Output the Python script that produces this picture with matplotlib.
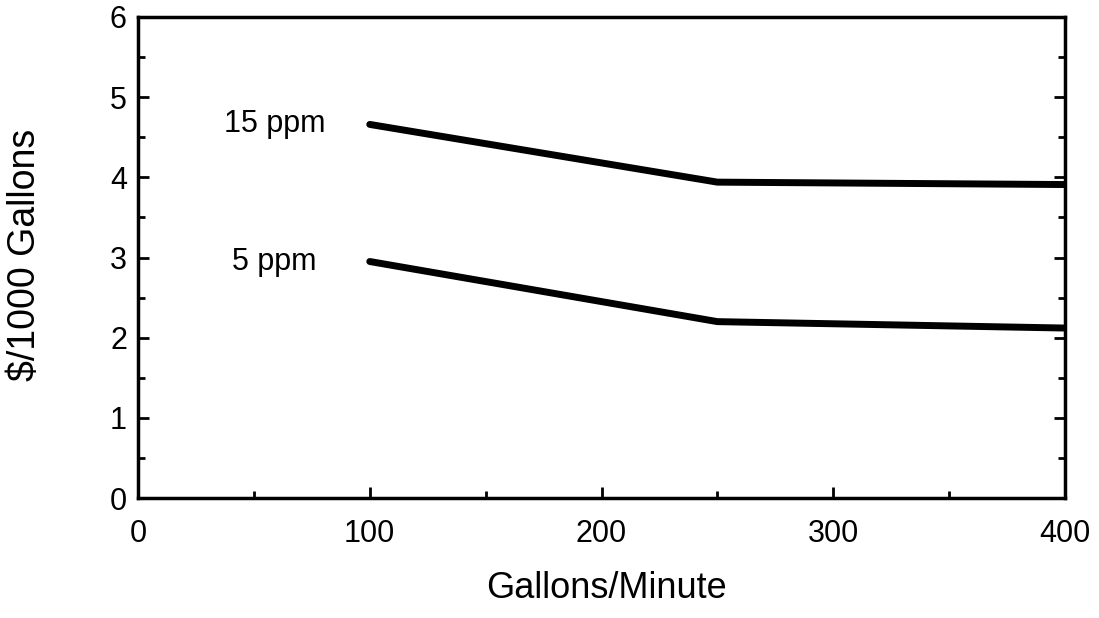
from matplotlib import pyplot as plt
from matplotlib.ticker import MultipleLocator

plt.rcParams['font.family'] = ['Liberation Sans', 'DejaVu Sans']

gpm = [100, 250, 400]
cost_15ppm = [4.66, 3.94, 3.91]
cost_5ppm = [2.95, 2.20, 2.12]
labels = ['15 ppm', '5 ppm']

fig = plt.figure(figsize=(10.99, 6.18), dpi=100)
ax = fig.add_axes([138 / 1099, 1 - 498 / 618, (1065 - 138) / 1099, (498 - 17) / 618])

ax.plot(gpm, cost_15ppm, color='black', lw=5, solid_capstyle='round')
ax.plot(gpm, cost_5ppm, color='black', lw=5, solid_capstyle='round')

ax.text(59, cost_15ppm[0], labels[0], ha='center', va='center', fontsize=22)
ax.text(59, cost_5ppm[0], labels[1], ha='center', va='center', fontsize=22)

ax.set_xlim(0, 400)
ax.set_ylim(0, 6)
ax.xaxis.set_major_locator(MultipleLocator(100))
ax.xaxis.set_minor_locator(MultipleLocator(50))
ax.yaxis.set_major_locator(MultipleLocator(1))
ax.yaxis.set_minor_locator(MultipleLocator(0.5))
ax.tick_params(which='both', direction='in', left=True, right=True, top=False,
               width=2, labelsize=22)
ax.tick_params(axis='x', pad=15)
ax.tick_params(axis='y', pad=8)
ax.tick_params(which='major', length=8)
ax.tick_params(which='minor', length=5)
for s in ax.spines.values():
    s.set_linewidth(2.5)

ax.set_xlabel('Gallons/Minute', fontsize=26)
ax.set_ylabel('$/1000 Gallons', fontsize=27)
ax.xaxis.set_label_coords(0.505, -0.152)
ax.yaxis.set_label_coords(-0.103, 0.505)

fig.savefig('out.png', dpi=100)
